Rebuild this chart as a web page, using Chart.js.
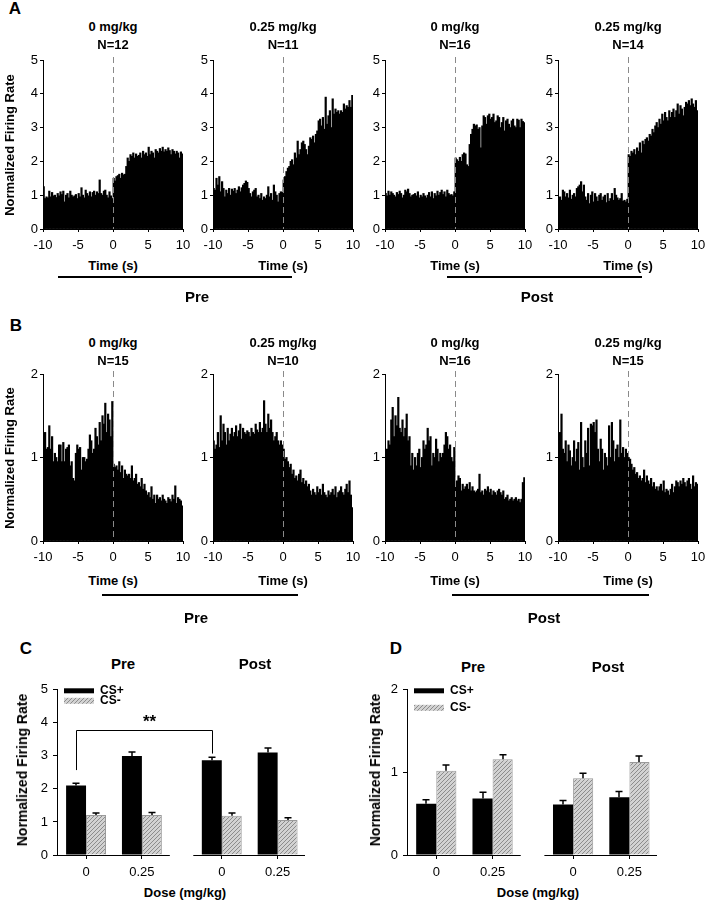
<!DOCTYPE html>
<html>
<head>
<meta charset="utf-8">
<script src="https://cdn.jsdelivr.net/npm/chart.js@4.4.0/dist/chart.umd.min.js"></script>
<style>
  body { margin: 0; background: #fff; }
  #fig { position: relative; width: 707px; height: 900px; background: #fff; overflow: hidden;
         font-family: "Liberation Sans", Arial, sans-serif; color: #000; }
  .lbl { position: absolute; transform: translate(-50%, -50%); white-space: nowrap; font-weight: bold; line-height: 1; }
  .rot { transform: translate(-50%, -50%) rotate(-90deg); }
  .rule { position: absolute; height: 2px; background: #000; }
</style>
</head>
<body>
<div id="fig"></div>
<script>
// PSTH bins: 0.2 s wide, from -10 s to +10 s (tone onset at 0)
const binStart = -10;
const binWidth = 0.2;
const doseTitles = ["0 mg/kg", "0.25 mg/kg", "0 mg/kg", "0.25 mg/kg"];
const nA = [12, 11, 16, 14];
const nB = [15, 10, 16, 15];

// A: CS+ responses (pre 0, pre 0.25, post 0, post 0.25)
const psthA1 = [
  1.25, 0.9, 0.95, 0.92, 1.12, 0.95, 1.08, 0.98, 1.0, 0.93,
  1.05, 0.98, 1.1, 1.02, 1.12, 0.8, 1.0, 1.05, 0.92, 1.12,
  1.0, 0.95, 0.98, 1.02, 0.9, 1.05, 0.95, 1.22, 1.0, 0.92,
  1.15, 1.05, 0.98, 1.1, 0.95, 1.08, 1.12, 1.0, 1.1, 1.05,
  1.45, 1.05, 1.0, 1.12, 1.15, 1.0, 0.92, 1.1, 0.98, 0.9,
  1.5, 1.42, 1.55, 1.58, 1.62, 1.5, 1.65, 1.6, 1.62, 1.85,
  2.1, 2.0, 2.2, 2.15, 2.25, 2.1, 2.22, 2.15, 2.18, 2.25,
  2.1, 2.3, 2.2, 2.25, 2.15, 2.42, 2.2, 2.3, 2.25, 2.1,
  2.35, 2.3, 2.25, 2.38, 2.3, 2.42, 2.28, 2.35, 2.3, 2.4,
  2.32, 2.2, 2.35, 2.3, 2.22, 2.3, 2.25, 2.1, 2.28, 2.22,
];
const psthA2 = [
  1.2, 1.15, 1.5, 1.3, 1.55, 1.1, 1.4, 1.2, 0.95, 1.15,
  1.05, 1.2, 1.0, 1.18, 1.12, 1.2, 1.05, 1.15, 1.25, 1.1,
  1.22, 1.3, 1.35, 1.42, 1.38, 1.2, 1.05, 0.95, 1.1, 1.15,
  1.2, 0.95, 1.0, 0.9, 1.05, 0.85, 0.95, 0.9, 1.0, 1.25,
  0.95, 1.05, 0.85, 1.3, 1.1, 1.0, 0.8, 1.05, 1.1, 1.08,
  1.45, 1.55, 1.7, 1.8, 1.85, 2.0, 2.05, 1.9, 2.25, 2.1,
  2.6, 2.2, 2.35, 2.55, 2.6, 2.5, 2.35, 2.2, 2.45, 2.7,
  2.65, 2.75, 2.55, 2.8, 2.9, 3.2, 3.25, 3.05, 3.3, 2.95,
  3.9, 3.1, 3.35, 3.5, 3.0, 3.85, 3.4, 3.55, 3.45, 3.5,
  3.4, 3.5, 3.45, 3.7, 3.55, 3.65, 3.6, 3.8, 3.6, 3.95,
];
const psthA3 = [
  1.05, 0.98, 1.12, 1.0, 1.1, 1.05, 1.0, 0.95, 1.08, 1.02,
  1.12, 1.05, 0.92, 1.0, 1.15, 1.1, 1.18, 1.05, 0.95, 1.0,
  1.02, 1.05, 0.98, 1.1, 0.92, 1.0, 0.95, 1.05, 0.98, 0.92,
  1.0, 1.08, 0.95, 1.1, 0.9, 1.05, 0.98, 1.12, 1.0, 1.08,
  1.15, 1.02, 1.1, 0.95, 1.15, 1.05, 1.0, 1.02, 0.98, 1.1,
  2.1, 2.05, 2.0, 2.12, 2.0, 2.2, 2.25, 2.22, 1.9, 1.85,
  2.5, 2.8, 2.95, 3.1, 3.05, 3.08, 2.95, 3.0, 2.4, 3.05,
  3.35, 3.3, 3.1, 3.35, 3.4, 3.25, 3.3, 3.4, 3.15, 3.2,
  3.35, 3.3, 3.0, 3.15, 3.3, 2.9, 3.2, 3.25, 3.1, 3.0,
  3.2, 3.25, 3.05, 3.0, 3.25, 3.22, 3.0, 3.25, 3.18, 3.15,
];
const psthA4 = [
  0.9, 0.95, 0.85, 1.15, 1.1, 0.95, 1.05, 0.92, 1.15, 0.88,
  1.0, 1.05, 0.95, 1.2, 1.25, 1.3, 1.4, 1.1, 1.3, 0.95,
  0.85, 1.05, 0.75, 1.0, 1.1, 0.8, 1.05, 0.95, 0.82, 1.0,
  1.05, 0.85, 0.95, 1.0, 0.78, 1.05, 0.82, 0.9, 1.05, 0.85,
  1.2, 1.0, 0.92, 0.85, 0.9, 1.05, 0.82, 0.85, 0.8, 0.88,
  2.2, 2.15, 2.3, 2.25, 2.35, 2.2, 2.4, 2.3, 2.55, 2.25,
  2.6, 2.5, 2.65, 2.7, 2.6, 2.8, 2.75, 2.95, 2.85, 3.05,
  3.15, 3.0, 3.25, 3.1, 3.4, 3.2, 3.45, 3.3, 3.2, 3.5,
  3.3, 3.45, 3.55, 3.3, 3.5, 3.7, 3.4, 3.65, 3.55, 3.35,
  3.6, 3.75, 3.7, 3.8, 3.65, 3.85, 3.7, 3.6, 3.8, 3.5,
];

// B: CS- responses (pre 0, pre 0.25, post 0, post 0.25)
const psthB1 = [
  1.15, 1.3, 1.1, 1.12, 1.38, 1.1, 1.25, 0.95, 1.05, 1.0,
  0.95, 1.15, 1.15, 0.95, 1.18, 0.95, 1.1, 1.12, 1.15, 0.9,
  0.95, 0.75, 0.72, 1.05, 1.15, 1.1, 1.12, 0.85, 1.0, 1.0,
  0.95, 0.98, 1.1, 1.27, 1.2, 1.05, 1.1, 1.35, 1.25, 1.15,
  1.42, 1.2, 1.5, 1.4, 1.65, 1.3, 1.52, 1.45, 1.25, 1.67,
  0.92, 0.88, 0.9, 0.85, 0.95, 0.82, 0.9, 0.75, 0.85, 0.8,
  0.78, 0.8, 0.75, 0.9, 0.72, 0.75, 0.8, 0.68, 0.7, 0.65,
  0.75, 0.62, 0.68, 0.6, 0.55, 0.58, 0.52, 0.65, 0.5, 0.55,
  0.45, 0.55, 0.5, 0.52, 0.48, 0.55, 0.5, 0.48, 0.45, 0.52,
  0.5, 0.47, 0.55, 0.5, 0.66, 0.45, 0.52, 0.5, 0.48, 0.42,
];
const psthB2 = [
  1.2, 1.1, 1.15, 1.3, 1.12, 1.5, 1.2, 1.4, 1.3, 1.15,
  1.35, 1.2, 1.28, 1.35, 1.25, 1.3, 1.38, 1.25, 1.32, 1.4,
  1.22, 1.35, 1.3, 1.28, 1.32, 1.3, 1.25, 1.35, 1.3, 1.28,
  1.4, 1.33, 1.3, 1.42, 1.3, 1.35, 1.68, 1.4, 1.3, 1.52,
  1.35, 1.45, 1.3, 1.2, 1.25, 1.3, 1.2, 1.15, 1.2, 1.15,
  1.1, 0.98, 1.0, 0.95, 0.88, 0.92, 0.8, 0.85, 0.75, 0.78,
  0.72, 0.8, 0.85, 0.7, 0.75, 0.68, 0.72, 0.65, 0.68, 0.6,
  0.55, 0.62, 0.58, 0.55, 0.65, 0.58, 0.62, 0.55, 0.68, 0.58,
  0.55, 0.52, 0.6, 0.55, 0.58, 0.62, 0.55, 0.65, 0.52, 0.58,
  0.6, 0.65, 0.58, 0.55, 0.62, 0.68, 0.58, 0.72, 0.55, 0.4,
];
const psthB3 = [
  1.05, 1.1, 1.2, 1.15, 1.45, 1.6, 1.25, 1.5, 1.38, 1.72,
  1.35, 1.3, 1.45, 1.25, 1.35, 1.52, 1.2, 1.25, 0.9, 1.05,
  0.85, 1.0, 0.9, 1.05, 1.1, 0.88, 1.0, 1.2, 1.1, 1.15,
  1.35, 1.2, 1.25, 0.9, 1.05, 1.0, 1.22, 1.1, 0.95, 1.05,
  1.0, 1.05, 1.15, 1.3, 1.25, 1.1, 1.15, 1.0, 0.95, 1.12,
  0.7, 0.72, 0.78, 0.75, 0.6, 0.68, 0.62, 0.65, 0.68, 0.62,
  0.7, 0.6, 0.65, 0.6, 0.58, 0.6, 0.62, 0.8, 0.58, 0.6,
  0.55, 0.62, 0.6, 0.65, 0.58, 0.62, 0.55, 0.6, 0.58, 0.55,
  0.6, 0.62, 0.58, 0.55, 0.6, 0.5, 0.52, 0.55, 0.48, 0.5,
  0.52, 0.48, 0.5, 0.52, 0.48, 0.5, 0.46, 0.5, 0.7, 0.76,
];
const psthB4 = [
  0.85, 1.3, 1.52, 1.1, 1.05, 1.2, 0.95, 1.15, 1.08, 0.9,
  1.0, 1.2, 0.95, 1.1, 1.18, 0.85, 1.42, 1.0, 0.88, 1.2,
  1.05, 1.35, 0.9, 1.4, 1.38, 1.42, 1.3, 1.45, 1.1, 0.95,
  1.22, 1.1, 0.85, 1.05, 1.0, 0.9, 1.38, 1.0, 1.42, 1.2,
  0.95, 1.1, 1.15, 1.0, 1.45, 1.05, 1.12, 1.0, 1.1, 1.05,
  1.0, 0.98, 0.92, 0.85, 0.88, 0.8, 0.82, 0.75, 0.78, 0.72,
  0.75, 0.85, 0.7, 0.78, 0.72, 0.68, 0.75, 0.65, 0.7, 0.62,
  0.65, 0.6, 0.65, 0.68, 0.6, 0.72, 0.58, 0.62, 0.6, 0.55,
  0.62, 0.68, 0.58, 0.65, 0.72, 0.7, 0.65, 0.72, 0.68, 0.75,
  0.7, 0.65, 0.72, 0.75, 0.68, 0.62, 0.78, 0.65, 0.7, 0.68,
];

// C / D: mean tone response (pre 0, pre 0.25, post 0, post 0.25)
const seriesLabels = ["CS+", "CS-"];
const doseLabels = ["0", "0.25", "0", "0.25"];
const sessionLabels = ["Pre", "Post"];
const cPlus = [2.10, 3.00, 2.87, 3.10];
const cPlusErr = [0.07, 0.12, 0.09, 0.14];
const cMinus = [1.21, 1.21, 1.19, 1.06];
const cMinusErr = [0.06, 0.08, 0.08, 0.07];
const dPlus = [0.62, 0.685, 0.61, 0.70];
const dPlusErr = [0.05, 0.075, 0.05, 0.07];
const dMinus = [1.02, 1.16, 0.93, 1.125];
const dMinusErr = [0.07, 0.055, 0.06, 0.075];
// ** bracket in C: between CS+ pre 0 and CS+ post 0
const sigPair = [0, 2];
const sigLeftFoot = 2.57;
const sigRightFoot = 3.07;
const sigTop = 3.78;
const sigText = "**";

// ---------- layout ----------
const FONT = '"Liberation Sans", Arial, sans-serif';
const tickFont = { family: FONT, size: 13 };
const fig = document.getElementById("fig");

const addText = (text, x, y, size, cls) => {
  const el = document.createElement("div");
  el.className = "lbl" + (cls ? " " + cls : "");
  el.style.left = x + "px";
  el.style.top = y + "px";
  el.style.fontSize = size + "px";
  el.textContent = text;
  fig.appendChild(el);
};

const addRule = (x1, x2, y) => {
  const el = document.createElement("div");
  el.className = "rule";
  el.style.left = x1 + "px";
  el.style.top = y - 1 + "px";
  el.style.width = x2 - x1 + "px";
  fig.appendChild(el);
};

const makeCanvas = (left, top, width, height) => {
  const c = document.createElement("canvas");
  c.width = width;
  c.height = height;
  c.style.position = "absolute";
  c.style.left = left + "px";
  c.style.top = top + "px";
  c.style.width = width + "px";
  c.style.height = height + "px";
  fig.appendChild(c);
  return c.getContext("2d");
};

// hatch fill for CS- bars
const hatchCanvas = document.createElement("canvas");
hatchCanvas.width = 4;
hatchCanvas.height = 4;
const hc = hatchCanvas.getContext("2d");
hc.fillStyle = "#d2d2d2";
hc.fillRect(0, 0, 4, 4);
hc.strokeStyle = "#8c8c8c";
hc.lineWidth = 1;
hc.beginPath();
hc.moveTo(0, 4); hc.lineTo(4, 0);
hc.moveTo(-1, 1); hc.lineTo(1, -1);
hc.moveTo(3, 5); hc.lineTo(5, 3);
hc.stroke();
const hatch = hc.createPattern(hatchCanvas, "repeat");

// ---------- histograms ----------
const dashedZero = {
  id: "dashedZero",
  afterDatasetsDraw(chart) {
    const { ctx, chartArea, scales } = chart;
    const x = Math.round(scales.x.getPixelForValue(0)) + 0.5;
    ctx.save();
    ctx.strokeStyle = "#8a8a8a";
    ctx.lineWidth = 1;
    ctx.setLineDash([6, 4]);
    ctx.beginPath();
    ctx.moveTo(x, chartArea.top - 3);
    ctx.lineTo(x, chartArea.bottom);
    ctx.stroke();
    ctx.restore();
  },
};

const histChart = (x0, yTop, yBottom, values, yMax) => {
  const W = 34, H = 26, padTop = 10, padRight = 14, w = 140;
  const ctx = makeCanvas(x0 - W, yTop - padTop, w + W + padRight, yBottom - yTop + padTop + H);
  new Chart(ctx, {
    type: "bar",
    data: {
      datasets: [
        {
          data: values.map((v, i) => ({ x: binStart + (i + 0.5) * binWidth, y: v })),
          backgroundColor: "#000",
          borderWidth: 0,
          barPercentage: 1,
          categoryPercentage: 1,
          inflateAmount: 0.4,
        },
      ],
    },
    options: {
      responsive: false,
      animation: false,
      devicePixelRatio: 1,
      layout: { padding: { top: padTop, right: padRight, left: 0, bottom: 0 } },
      plugins: { legend: { display: false }, tooltip: { enabled: false } },
      scales: {
        x: {
          type: "linear",
          min: -10,
          max: 10,
          offset: false,
          afterFit: (s) => { s.height = H; },
          ticks: { stepSize: 5, maxRotation: 0, padding: 6, color: "#000", font: tickFont },
          grid: { display: true, drawOnChartArea: false, offset: false, tickLength: 3, color: "#000" },
          border: { display: true, color: "#000" },
        },
        y: {
          min: 0,
          max: yMax,
          afterFit: (s) => { s.width = W; },
          ticks: { stepSize: 1, padding: 2, color: "#000", font: tickFont },
          grid: { display: true, drawOnChartArea: false, tickLength: 3, color: "#000" },
          border: { display: true, color: "#000" },
        },
      },
    },
    plugins: [dashedZero],
  });
};

const histX = [43, 213, 385, 558];
const rowA = { top: 60, bottom: 229 };
const rowB = { top: 374, bottom: 541 };
[psthA1, psthA2, psthA3, psthA4].forEach((p, i) => histChart(histX[i], rowA.top, rowA.bottom, p, 5));
[psthB1, psthB2, psthB3, psthB4].forEach((p, i) => histChart(histX[i], rowB.top, rowB.bottom, p, 2));

histX.forEach((x, i) => {
  const cx = x + 70;
  addText(doseTitles[i], cx, 26, 13);
  addText("N=" + nA[i], cx, 44, 13);
  addText("Time (s)", cx, 265, 13);
  addText(doseTitles[i], cx, 342, 13);
  addText("N=" + nB[i], cx, 360, 13);
  addText("Time (s)", cx, 580, 13);
});
addText("A", 15, 8, 17);
addText("B", 16, 325, 17);
addText("Normalized Firing Rate", 9, 145, 13, "rot");
addText("Normalized Firing Rate", 9, 458, 13, "rot");
addRule(58, 292, 277);
addRule(447, 642, 277);
addText(sessionLabels[0], 197, 296, 15);
addText(sessionLabels[1], 537, 296, 15);
addRule(102, 298, 595);
addRule(452, 649, 595);
addText(sessionLabels[0], 196, 617, 15);
addText(sessionLabels[1], 544, 617, 15);

// ---------- bar panels ----------
const groupShift = 2.43;
const barSlots = [0, 1, groupShift, groupShift + 1];
const barXMin = -0.52;
const barXMax = 3.92;
const gapFrom = 1.5;
const gapTo = 1.92;

const brokenAxis = {
  id: "brokenAxis",
  afterDraw(chart) {
    const { ctx, chartArea, scales } = chart;
    const y = Math.round(chartArea.bottom) + 0.5;
    ctx.save();
    ctx.strokeStyle = "#000";
    ctx.lineWidth = 1;
    ctx.beginPath();
    ctx.moveTo(chartArea.left, y);
    ctx.lineTo(scales.x.getPixelForValue(gapFrom), y);
    ctx.moveTo(scales.x.getPixelForValue(gapTo), y);
    ctx.lineTo(chartArea.right, y);
    ctx.stroke();
    ctx.restore();
  },
};

const errorBars = {
  id: "errorBars",
  afterDatasetsDraw(chart) {
    const { ctx } = chart;
    const yScale = chart.scales.y;
    ctx.save();
    ctx.strokeStyle = "#000";
    ctx.lineWidth = 1.5;
    chart.data.datasets.forEach((ds, i) => {
      chart.getDatasetMeta(i).data.forEach((bar, j) => {
        const x = Math.round(bar.x);
        const yTop = yScale.getPixelForValue(ds.data[j].y + ds.errors[j]);
        ctx.beginPath();
        ctx.moveTo(x, bar.y);
        ctx.lineTo(x, yTop);
        ctx.moveTo(x - 3.5, yTop);
        ctx.lineTo(x + 3.5, yTop);
        ctx.stroke();
      });
    });
    ctx.restore();
  },
};

const legendBox = (dy) => ({
  id: "legendBox",
  afterDraw(chart) {
    const { ctx, chartArea } = chart;
    const x = chartArea.left + 7;
    const y = chartArea.top + 1;
    ctx.save();
    ctx.fillStyle = "#000";
    ctx.fillRect(x, y - 2.5, 30, 5);
    ctx.fillStyle = hatch;
    ctx.fillRect(x, y + dy - 3, 30, 6);
    ctx.fillStyle = "#000";
    ctx.font = "bold 12px " + FONT;
    ctx.textBaseline = "middle";
    ctx.fillText(seriesLabels[0], x + 36, y);
    ctx.fillText(seriesLabels[1], x + 36, y + dy);
    ctx.restore();
  },
});

const bracket = {
  id: "bracket",
  afterDatasetsDraw(chart) {
    const { ctx, scales } = chart;
    const meta = chart.getDatasetMeta(0);
    const xl = Math.round(meta.data[sigPair[0]].x) + 0.5;
    const xr = Math.round(meta.data[sigPair[1]].x) + 0.5;
    const yT = Math.round(scales.y.getPixelForValue(sigTop)) + 0.5;
    ctx.save();
    ctx.strokeStyle = "#000";
    ctx.lineWidth = 1;
    ctx.beginPath();
    ctx.moveTo(xl, scales.y.getPixelForValue(sigLeftFoot));
    ctx.lineTo(xl, yT);
    ctx.lineTo(xr, yT);
    ctx.lineTo(xr, scales.y.getPixelForValue(sigRightFoot));
    ctx.stroke();
    ctx.fillStyle = "#000";
    ctx.font = "bold 17px " + FONT;
    ctx.textAlign = "center";
    ctx.textBaseline = "middle";
    ctx.fillText(sigText, (xl + xr) / 2 + 5, yT - 8);
    ctx.restore();
  },
};

const barChart = (x0, x1, yTop, yBottom, yMax, plus, plusErr, minus, minusErr, extra) => {
  const W = 36, H = 28, padTop = 10, padRight = 12;
  const ctx = makeCanvas(x0 - W, yTop - padTop, x1 - x0 + W + padRight, yBottom - yTop + padTop + H);
  new Chart(ctx, {
    type: "bar",
    data: {
      datasets: [
        {
          label: seriesLabels[0],
          data: barSlots.map((s, i) => ({ x: s, y: plus[i] })),
          errors: plusErr,
          backgroundColor: "#000",
          borderWidth: 0,
        },
        {
          label: seriesLabels[1],
          data: barSlots.map((s, i) => ({ x: s, y: minus[i] })),
          errors: minusErr,
          backgroundColor: hatch,
          borderColor: "#9a9a9a",
          borderWidth: 1,
        },
      ],
    },
    options: {
      responsive: false,
      animation: false,
      devicePixelRatio: 1,
      datasets: { bar: { barPercentage: 1, categoryPercentage: 40 / 56 } },
      layout: { padding: { top: padTop, right: padRight, left: 0, bottom: 0 } },
      plugins: { legend: { display: false }, tooltip: { enabled: false } },
      scales: {
        x: {
          type: "linear",
          min: barXMin,
          max: barXMax,
          offset: false,
          afterBuildTicks: (s) => { s.ticks = barSlots.map((v) => ({ value: v })); },
          afterFit: (s) => { s.height = H; },
          ticks: {
            callback: (v, i) => doseLabels[i],
            autoSkip: false,
            maxRotation: 0,
            padding: 6,
            color: "#000",
            font: tickFont,
          },
          grid: { display: true, drawOnChartArea: false, offset: false, tickLength: 4, color: "#000" },
          border: { display: false },
        },
        y: {
          min: 0,
          max: yMax,
          afterFit: (s) => { s.width = W; },
          ticks: { stepSize: 1, padding: 5, color: "#000", font: tickFont },
          grid: { display: true, drawOnChartArea: false, tickLength: 4, color: "#000" },
          border: { display: true, color: "#000" },
        },
      },
    },
    plugins: [brokenAxis, errorBars].concat(extra),
  });
};

barChart(57, 305, 687, 855, 5, cPlus, cPlusErr, cMinus, cMinusErr, [legendBox(10), bracket]);
barChart(407, 657, 687, 855, 2, dPlus, dPlusErr, dMinus, dMinusErr, [legendBox(17)]);

addText("C", 26, 648, 17);
addText("D", 396, 648, 17);
addText(sessionLabels[0], 123, 663, 15);
addText(sessionLabels[1], 255, 663, 15);
addText(sessionLabels[0], 473, 666, 15);
addText(sessionLabels[1], 608, 666, 15);
addText("Normalized Firing Rate", 22, 770, 14, "rot");
addText("Normalized Firing Rate", 375, 770, 14, "rot");
addText("Dose (mg/kg)", 185, 892, 13);
addText("Dose (mg/kg)", 538, 892, 13);
</script>
</body>
</html>
